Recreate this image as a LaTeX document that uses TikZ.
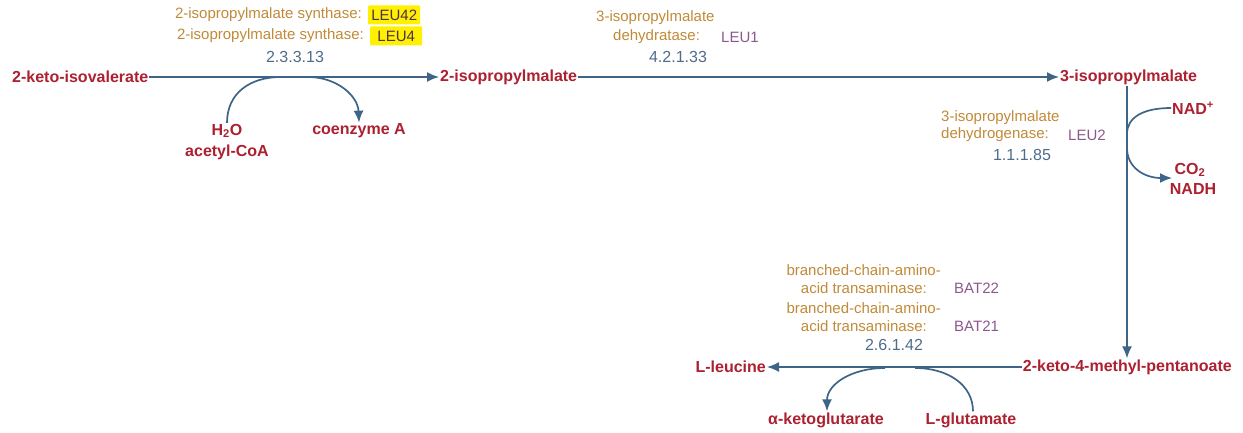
\documentclass[tikz,border=0pt]{standalone}
\usepackage{fontspec}
\setmainfont{Liberation Sans}
\usetikzlibrary{arrows.meta}
\definecolor{metc}{RGB}{172,32,48}
\definecolor{enzc}{RGB}{192,138,56}
\definecolor{genec}{RGB}{140,88,140}
\definecolor{ecc}{RGB}{78,108,138}
\definecolor{lnc}{RGB}{62,100,135}
\definecolor{hlc}{RGB}{255,240,0}
\begin{document}
\begin{tikzpicture}[x=1pt,y=-1pt,
  met/.style={text=metc,font=\bfseries\fontsize{16}{18}\selectfont,inner sep=1pt},
  enz/.style={text=enzc,font=\fontsize{15}{17}\selectfont,inner sep=1pt},
  gene/.style={text=genec,font=\fontsize{15}{17}\selectfont,inner sep=1pt},
  hgene/.style={text=genec!55!black,fill=hlc,font=\fontsize{15}{17}\selectfont,inner sep=0pt,minimum width=52pt,minimum height=19pt,rounded corners=1pt},
  ecn/.style={text=ecc,font=\fontsize{16}{18}\selectfont,inner sep=1pt},
  rxn/.style={draw=lnc,line width=1.7pt},
  tip/.style={-{Latex[length=12pt,width=10pt]}}]
\useasboundingbox (0,0) rectangle (1243,433);
% metabolites
\node[met,anchor=west] (kiv) at (11,77) {2-keto-isovalerate};
\node[met,anchor=west] (ipm) at (439,77) {2-isopropylmalate};
\node[met,anchor=west] (tipm) at (1059,77) {3-isopropylmalate};
\node[met,anchor=east] (kmp) at (1233,367) {2-keto-4-methyl-pentanoate};
\node[met,anchor=east] (leu) at (767,367) {L-leucine};
\node[met] (h2o) at (227,131) {H\textsubscript{2}O};
\node[met] (acoa) at (227,152) {acetyl-CoA};
\node[met] (coa) at (359,131) {coenzyme A};
\node[met,anchor=west] (nad) at (1171,108) {NAD\textsuperscript{+}};
\node[met] (co2) at (1190,170) {CO\textsubscript{2}};
\node[met] (nadh) at (1193,189) {NADH};
\node[met] (akg) at (826,420) {α-ketoglutarate};
\node[met] (glu) at (971,420) {L-glutamate};
% main reactions
\draw[rxn,tip] (kiv.east) -- (ipm.west);
\draw[rxn,tip] (ipm.east) -- (tipm.west);
\draw[rxn,tip] (tipm.south -| 1127,0) -- (kmp.north -| 1127,0);
\draw[rxn,tip] (kmp.west) -- (leu.east);
% side reactions
\coordinate (t1) at (281,77);
\coordinate (t2) at (308,77);
\draw[rxn] (h2o.north) .. controls (227,93) and (250,77) .. (t1);
\draw[rxn,tip] (t2) .. controls (337,77) and (358,96) .. (coa.north);
\coordinate (r1) at (1127,134);
\coordinate (r2) at (1127,148);
\draw[rxn] (nad.west) .. controls (1142,108) and (1127,118) .. (r1);
\draw[rxn,tip] (r2) .. controls (1127,168) and (1145,178) .. (1172,178);
\coordinate (b1) at (885,368);
\coordinate (b2) at (915,368);
\draw[rxn,tip] (b1) .. controls (852,368) and (827,384) .. (akg.north -| 827,0);
\draw[rxn] (glu.north -| 973,0) .. controls (973,385) and (948,368) .. (b2);
% enzyme labels
\node[enz,anchor=east] (e1a) at (363,15) {2-isopropylmalate synthase:};
\node[hgene,anchor=west] (g1a) at (368,15) {LEU42};
\node[enz,anchor=east] (e1b) at (365,36) {2-isopropylmalate synthase:};
\node[hgene,anchor=west] (g1b) at (370,36) {LEU4};
\node[ecn] (ec1) at (295,57) {2.3.3.13};
\node[enz,anchor=west] (e2a) at (595,18) {3-isopropylmalate};
\node[enz,anchor=west] (e2b) at (612,37) {dehydratase:};
\node[gene,anchor=west] (g2) at (720,37) {LEU1};
\node[ecn] (ec2) at (678,57) {4.2.1.33};
\node[enz,anchor=west] (e3a) at (940,118) {3-isopropylmalate};
\node[enz,anchor=west] (e3b) at (940,135) {dehydrogenase:};
\node[gene,anchor=west] (g3) at (1067,135) {LEU2};
\node[ecn] (ec3) at (1022,155) {1.1.1.85};
\node[enz,anchor=east] (e4a) at (942,270) {branched-chain-amino-};
\node[enz,anchor=east] (e4b) at (928,288) {acid transaminase:};
\node[gene,anchor=west] (g4a) at (953,288) {BAT22};
\node[enz,anchor=east] (e4c) at (942,308) {branched-chain-amino-};
\node[enz,anchor=east] (e4d) at (928,326) {acid transaminase:};
\node[gene,anchor=west] (g4b) at (953,326) {BAT21};
\node[ecn] (ec4) at (894,345) {2.6.1.42};
\end{tikzpicture}
\end{document}
